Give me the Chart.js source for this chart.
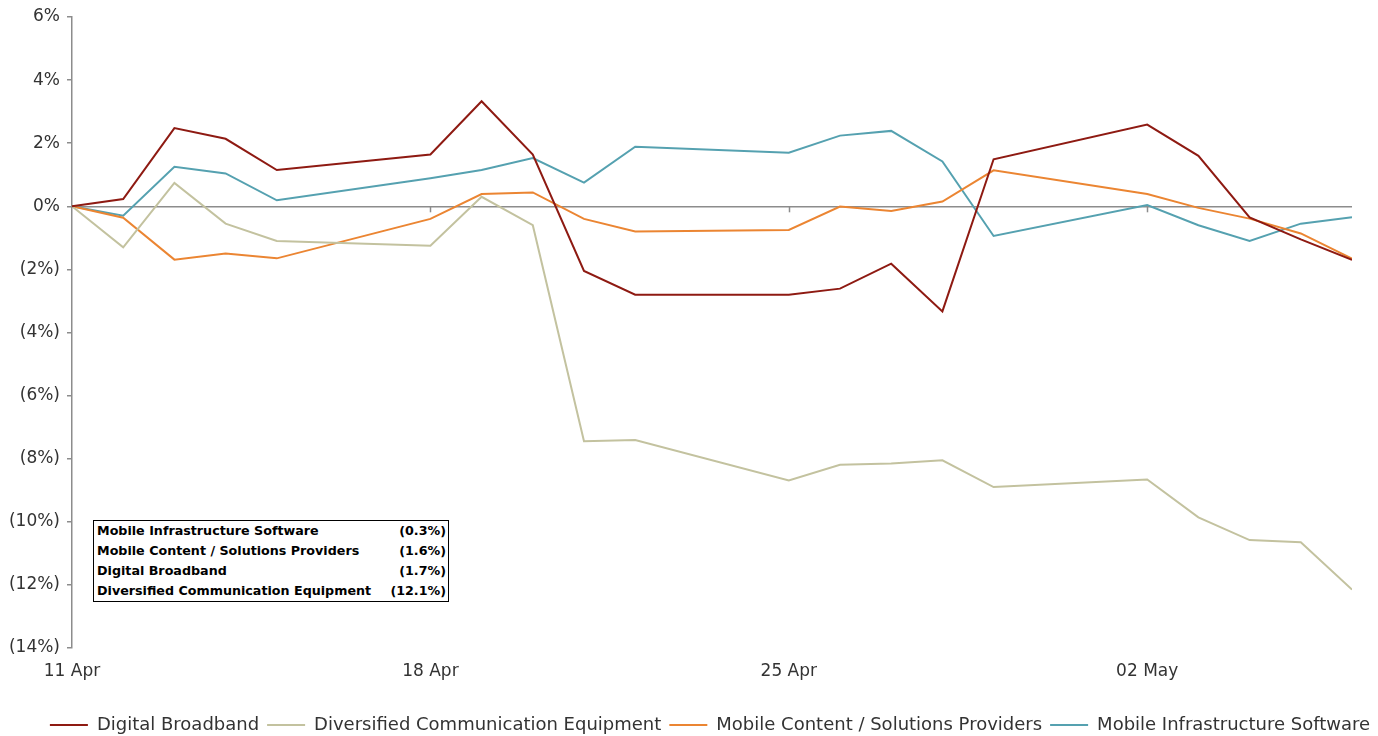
<!DOCTYPE html>
<html>
<head>
<meta charset="utf-8">
<script src="https://cdn.jsdelivr.net/npm/chart.js@4"></script>
<style>
  html, body { margin: 0; padding: 0; background: #fff; overflow: hidden; }
  #wrap { position: relative; width: 1378px; height: 736px; }
  #perf { position: absolute; left: 93px; top: 520px; width: 354px; border: 1.5px solid #000;
          font: bold 12.7px "DejaVu Sans", sans-serif; color: #000; background: #fff; }
  #perf table { border-collapse: collapse; width: 100%; }
  #perf td { padding: 0 2px 0 3px; height: 20px; line-height: 20px; white-space: nowrap; }
  #perf td.v { text-align: right; }
</style>
</head>
<body>
<div id="wrap">
  <canvas id="myChart" width="1378" height="736"></canvas>
  <div id="perf"><table id="perfTable"></table></div>
</div>
<script>
// trading days shown on the chart
var dates = ['2016-04-11', '2016-04-12', '2016-04-13', '2016-04-14', '2016-04-15',
             '2016-04-18', '2016-04-19', '2016-04-20', '2016-04-21', '2016-04-22',
             '2016-04-25', '2016-04-26', '2016-04-27', '2016-04-28', '2016-04-29',
             '2016-05-02', '2016-05-03', '2016-05-04', '2016-05-05', '2016-05-06'];

// cumulative change, %
var digitalBroadband = [0, 0.23, 2.48, 2.14, 1.15, 1.64, 3.33, 1.64, -2.05, -2.8,
                        -2.8, -2.61, -1.82, -3.33, 1.49, 2.59, 1.6, -0.35, -1.05, -1.7];
var diversifiedEquipment = [0, -1.3, 0.74, -0.55, -1.1, -1.25, 0.3, -0.6, -7.45, -7.41,
                            -8.69, -8.19, -8.15, -8.05, -8.9, -8.66, -9.86, -10.58, -10.65, -12.15];
var mobileContent = [0, -0.36, -1.69, -1.5, -1.65, -0.4, 0.39, 0.44, -0.4, -0.8,
                     -0.75, -0.01, -0.15, 0.15, 1.14, 0.39, -0.05, -0.39, -0.86, -1.66];
var mobileInfra = [0, -0.3, 1.25, 1.04, 0.19, 0.89, 1.15, 1.53, 0.75, 1.89,
                   1.7, 2.24, 2.39, 1.42, -0.94, 0.04, -0.6, -1.1, -0.55, -0.35];

var seriesNames = ['Digital Broadband', 'Diversified Communication Equipment',
                   'Mobile Content / Solutions Providers', 'Mobile Infrastructure Software'];

// x axis ticks (days after 11 Apr) and their labels
var tickDays = [0, 7, 14, 21];
var tickLabels = ['11 Apr', '18 Apr', '25 Apr', '02 May'];

// y axis ticks
var yTicks = [-14, -12, -10, -8, -6, -4, -2, 0, 2, 4, 6];

// performance summary box
var summaryNames = ['Mobile Infrastructure Software', 'Mobile Content / Solutions Providers',
                    'Digital Broadband', 'Diversified Communication Equipment'];
var summaryValues = [-0.3, -1.6, -1.7, -12.1];

var start = Date.parse(dates[0]);
var dayIndex = dates.map(function (d) { return Math.round((Date.parse(d) - start) / 86400000); });

function pts(values) {
    return values.map(function (v, i) { return { x: dayIndex[i], y: v }; });
}

function pct(v, digits) {
    var s = Math.abs(v).toFixed(digits) + '%';
    return v < 0 ? '(' + s + ')' : s;
}

// summary table
var tbl = document.getElementById('perfTable');
summaryNames.forEach(function (n, i) {
    var tr = document.createElement('tr');
    var a = document.createElement('td'); a.textContent = n;
    var b = document.createElement('td'); b.className = 'v'; b.textContent = pct(summaryValues[i], 1);
    tr.appendChild(a); tr.appendChild(b); tbl.appendChild(tr);
});

var axisGrey = '#8c8c8c';
var colors = ['#8e1a12', '#c3c29f', '#eb8532', '#55a1b0'];
var allSeries = [digitalBroadband, diversifiedEquipment, mobileContent, mobileInfra];

// small tick marks under the zero line
var zeroTicks = {
    id: 'zeroTicks',
    afterDatasetsDraw: function (chart) {
        var x = chart.scales.x, y = chart.scales.y, ctx = chart.ctx;
        var y0 = y.getPixelForValue(0);
        ctx.save();
        ctx.strokeStyle = axisGrey;
        ctx.lineWidth = 1.5;
        tickDays.forEach(function (d) {
            if (d === 0) return;
            var px = Math.round(x.getPixelForValue(d)) + 0.5;
            ctx.beginPath();
            ctx.moveTo(px, y0);
            ctx.lineTo(px, y0 + 6);
            ctx.stroke();
        });
        ctx.restore();
    }
};

// the legend row sits a little right of centre in the original
var legendShift = {
    id: 'legendShift',
    afterLayout: function (chart) {
        chart.legend.left += 34;
        chart.legend.right += 34;
    }
};

Chart.defaults.font.family = '"DejaVu Sans", sans-serif';
Chart.defaults.color = '#333';

var ctx = document.getElementById('myChart').getContext('2d');
var chart = new Chart(ctx, {
    type: 'line',
    data: {
        datasets: allSeries.map(function (s, i) {
            return {
                label: seriesNames[i],
                data: pts(s),
                borderColor: colors[i],
                backgroundColor: colors[i],
                borderWidth: 2,
                pointRadius: 0,
                tension: 0
            };
        })
    },
    plugins: [zeroTicks, legendShift],
    options: {
        responsive: false,
        animation: false,
        layout: { padding: { top: 17, right: 26, left: 0, bottom: -8 } },
        plugins: {
            tooltip: { enabled: false },
            legend: {
                position: 'bottom',
                labels: {
                    usePointStyle: true,
                    pointStyle: 'line',
                    pointStyleWidth: 38,
                    boxHeight: 12,
                    padding: 8,
                    color: '#333',
                    font: { size: 18 }
                }
            }
        },
        scales: {
            x: {
                type: 'linear',
                min: dayIndex[0],
                max: dayIndex[dayIndex.length - 1],
                afterBuildTicks: function (scale) {
                    scale.ticks = tickDays.map(function (v) { return { value: v }; });
                },
                afterFit: function (scale) { scale.height = 60; },
                border: { display: false },
                grid: { display: false, drawTicks: false },
                ticks: {
                    padding: 13,
                    maxRotation: 0,
                    color: '#333',
                    font: { size: 17 },
                    callback: function (v) { return tickLabels[tickDays.indexOf(v)]; }
                }
            },
            y: {
                min: -14,
                max: 6,
                afterBuildTicks: function (scale) {
                    scale.ticks = yTicks.map(function (v) { return { value: v }; });
                },
                afterFit: function (scale) { scale.width = 72; },
                border: { display: true, color: axisGrey, width: 1.5 },
                grid: {
                    drawOnChartArea: true,
                    color: function (c) { return c.tick && c.tick.value === 0 ? axisGrey : 'rgba(0,0,0,0)'; },
                    lineWidth: 1.5,
                    tickColor: axisGrey,
                    tickLength: 5
                },
                ticks: {
                    padding: 7,
                    color: '#333',
                    font: { size: 17, lineHeight: 1 },
                    callback: function (v) { return pct(v, 0); }
                }
            }
        }
    }
});
</script>
</body>
</html>
